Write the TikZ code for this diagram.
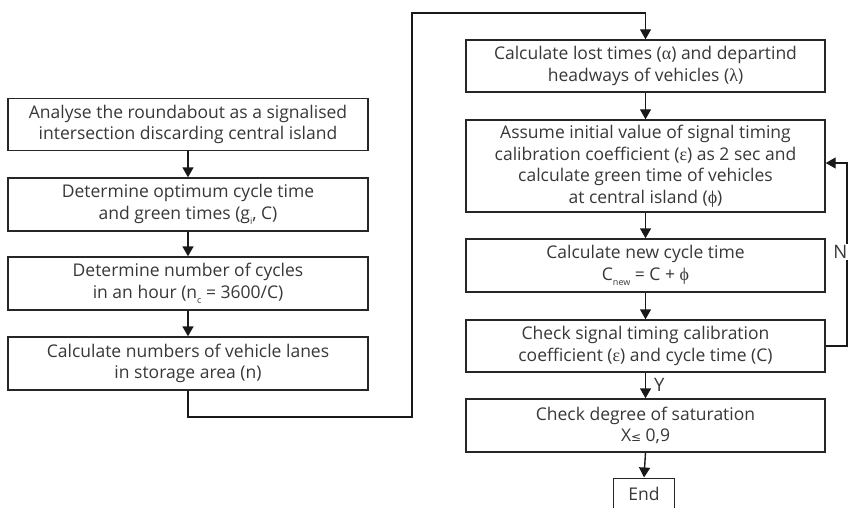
\documentclass[tikz,border=0pt]{standalone}
\usepackage{fontspec}
\setmainfont{Open Sans}
\newfontfamily\grk{Liberation Serif}
\newfontfamily\symf{DejaVu Sans}
\usetikzlibrary{arrows.meta}
\newcommand{\mysub}[1]{\raisebox{-0.6ex}{\fontsize{9}{9}\selectfont #1}}
\newcommand{\gk}[1]{{\grk\fontsize{18}{21.5}\selectfont #1}}
\tikzset{
  box/.style={draw=black!85, line width=1.4pt, rectangle, inner sep=0pt, align=center,
    font=\fontsize{17.5}{21.5}\selectfont, text=black!78},
  conn/.style={draw=black!90, line width=1.4pt},
  arr/.style={conn, -{Triangle[length=10pt,width=11pt]}},
  lbl/.style={font=\fontsize{18.5}{21}\selectfont, text=black!78, inner sep=1pt}
}
\begin{document}
\begin{tikzpicture}[x=1pt,y=-1pt]
\clip (0,0) rectangle (848,508);
\fill[white] (0,0) rectangle (848,508);
% left column
\node[box, minimum width=360pt, minimum height=52pt] (b1) at (188,124.5)
  {Analyse the roundabout as a signalised\\intersection discarding central island};
\node[box, minimum width=360pt, minimum height=53pt] (b2) at (188,204.5)
  {Determine optimum cycle time\\and green times (g\mysub{i}, C)};
\node[box, minimum width=360pt, minimum height=53pt] (b3) at (188,283.5)
  {Determine number of cycles\\in an hour (n\mysub{c} = 3600/C)};
\node[box, minimum width=360pt, minimum height=53pt] (b4) at (188,363.5)
  {Calculate numbers of vehicle lanes\\in storage area (n)};
% right column
\node[box, minimum width=359pt, minimum height=52pt] (r1) at (645.5,66)
  {Calculate lost times (\gk{α}) and departind\\headways of vehicles (\gk{λ})};
\node[box, minimum width=359pt, minimum height=92pt] (r2) at (645.5,166)
  {Assume initial value of signal timing\\calibration coefficient (\gk{ε}) as 2 sec and\\calculate green time of vehicles\\at central island (\gk{ϕ})};
\node[box, minimum width=359pt, minimum height=53pt] (r3) at (645.5,265.5)
  {Calculate new cycle time\\C\mysub{new} = C + \gk{ϕ}};
\node[box, minimum width=359pt, minimum height=52pt] (r4) at (645.5,346)
  {Check signal timing calibration\\coefficient (\gk{ε}) and cycle time (C)};
\node[box, minimum width=359pt, minimum height=53pt] (r5) at (645.5,425.5)
  {Check degree of saturation\\X{\symf\fontsize{12}{20}\selectfont ≤} 0,9};
\node[box, minimum width=61pt, minimum height=44pt, anchor=north] (end) at (644,477.5) {};
\node[lbl, font=\fontsize{17.5}{21}\selectfont] (endt) at (644,494) {End};
% coordinates
\coordinate (c1) at (188,417);
\coordinate (c2) at (412,417);
\coordinate (c3) at (412,13);
\coordinate (c4) at (645.5,13);
\coordinate (f1) at (847,346);
\coordinate (f2) at (847,163);
% connectors
\draw[arr] (b1) -- (b2);
\draw[arr] (b2) -- (b3);
\draw[arr] (b3) -- (b4);
\draw[arr] (b4.south) -- (c1) -- (c2) -- (c3) -- (c4) -- (r1.north);
\draw[arr] (r1) -- (r2);
\draw[arr] (r2) -- (r3);
\draw[arr] (r3) -- (r4);
\draw[arr] (r4) -- (r5);
\draw[arr] (r5.south) -- (end.north);
\draw[arr] (r4.east |- f1) -- (f1) -- (f2) -- (r2.east |- f2);
\node[lbl, fill=white, anchor=east, inner xsep=0.5pt] (nlab) at (848,252) {N};
\node[lbl, anchor=west] (ylab) at (653,385) {Y};
\end{tikzpicture}
\end{document}
